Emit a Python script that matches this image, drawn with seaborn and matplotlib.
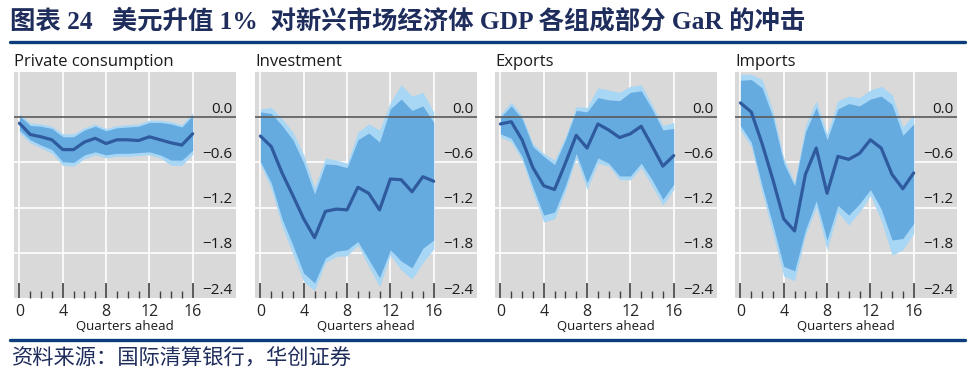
"""GaR response of EME GDP components to a 1% USD appreciation (four small panels)."""

import matplotlib
matplotlib.use("Agg")
import matplotlib.pyplot as plt
import matplotlib.transforms as mtransforms
from matplotlib.lines import Line2D
import pandas as pd
import seaborn as sns

# ---- data ----
quarters = [0, 1, 2, 3, 4, 5, 6, 7, 8, 9, 10, 11, 12, 13, 14, 15, 16]
panel_titles = ["Private consumption", "Investment", "Exports", "Imports"]
y_ticks = [0.0, -0.6, -1.2, -1.8, -2.4]
y_tick_labels = ["0.0", "\u22120.6", "\u22121.2", "\u22121.8", "\u22122.4"]
x_ticks = [0, 4, 8, 12, 16]

cons_median = [-0.08, -0.23, -0.26, -0.30, -0.43, -0.43, -0.33, -0.28, -0.35,
               -0.30, -0.30, -0.31, -0.26, -0.30, -0.34, -0.37, -0.22]
cons_inner_hi = [0.02, -0.11, -0.12, -0.15, -0.26, -0.26, -0.17, -0.12, -0.18,
                 -0.14, -0.13, -0.12, -0.07, -0.07, -0.09, -0.13, 0.02]
cons_inner_lo = [-0.17, -0.30, -0.37, -0.43, -0.59, -0.60, -0.50, -0.46, -0.50,
                 -0.48, -0.48, -0.47, -0.46, -0.50, -0.57, -0.57, -0.44]
cons_outer_hi = [0.05, -0.08, -0.09, -0.12, -0.22, -0.22, -0.14, -0.09, -0.15,
                 -0.11, -0.10, -0.09, -0.04, -0.04, -0.06, -0.10, 0.06]
cons_outer_lo = [-0.21, -0.34, -0.41, -0.48, -0.64, -0.65, -0.55, -0.50, -0.54,
                 -0.52, -0.52, -0.51, -0.50, -0.54, -0.64, -0.64, -0.49]

inv_median = [-0.25, -0.39, -0.74, -1.04, -1.35, -1.60, -1.25, -1.22, -1.23,
              -0.93, -1.01, -1.23, -0.82, -0.83, -0.99, -0.79, -0.85]
inv_inner_hi = [0.07, 0.05, -0.11, -0.30, -0.61, -1.02, -0.62, -0.63, -0.67,
                -0.30, -0.21, -0.33, 0.11, 0.24, 0.09, 0.15, -0.07]
inv_inner_lo = [-0.59, -0.87, -1.35, -1.70, -2.07, -2.20, -1.87, -1.78, -1.76,
                -1.65, -1.89, -2.13, -1.76, -1.91, -2.00, -1.74, -1.63]
inv_outer_hi = [0.11, 0.13, -0.02, -0.20, -0.50, -0.93, -0.54, -0.57, -0.61,
                -0.20, -0.09, -0.17, 0.20, 0.43, 0.28, 0.33, 0.07]
inv_outer_lo = [-0.63, -0.95, -1.45, -1.82, -2.18, -2.30, -1.93, -1.85, -1.84,
                -1.70, -1.98, -2.25, -1.83, -2.03, -2.15, -1.93, -1.75]

exp_median = [-0.09, -0.06, -0.30, -0.67, -0.91, -0.96, -0.61, -0.24, -0.41,
              -0.09, -0.17, -0.27, -0.22, -0.12, -0.38, -0.65, -0.51]
exp_inner_hi = [0.00, 0.15, -0.02, -0.39, -0.52, -0.63, -0.30, 0.09, 0.07,
                0.26, 0.23, 0.22, 0.33, 0.35, 0.11, -0.17, -0.15]
exp_inner_lo = [-0.22, -0.28, -0.52, -0.93, -1.30, -1.26, -0.91, -0.48, -0.87,
                -0.54, -0.61, -0.78, -0.78, -0.61, -0.83, -1.09, -0.89]
exp_outer_hi = [0.04, 0.20, 0.02, -0.35, -0.48, -0.57, -0.26, 0.14, 0.13,
                0.39, 0.36, 0.33, 0.41, 0.43, 0.17, -0.11, -0.07]
exp_outer_lo = [-0.26, -0.33, -0.57, -1.00, -1.39, -1.35, -0.98, -0.54, -0.96,
                -0.61, -0.65, -0.83, -0.83, -0.67, -0.91, -1.17, -0.96]

imp_median = [0.19, 0.07, -0.35, -0.83, -1.35, -1.51, -0.76, -0.41, -1.01,
              -0.52, -0.56, -0.48, -0.30, -0.41, -0.76, -0.95, -0.74]
imp_inner_hi = [0.49, 0.50, 0.39, 0.00, -0.61, -0.91, -0.20, 0.13, -0.30,
                0.11, 0.18, 0.15, 0.24, 0.28, 0.17, -0.24, -0.09]
imp_inner_lo = [-0.11, -0.33, -0.91, -1.43, -1.98, -2.04, -1.50, -1.11, -1.63,
                -1.17, -1.30, -1.15, -0.96, -1.22, -1.63, -1.61, -1.41]
imp_outer_hi = [0.57, 0.57, 0.50, 0.09, -0.54, -0.87, -0.11, 0.22, -0.22,
                0.22, 0.28, 0.26, 0.36, 0.41, 0.30, -0.13, 0.04]
imp_outer_lo = [-0.17, -0.39, -1.00, -1.54, -2.11, -2.17, -1.57, -1.20, -1.76,
                -1.26, -1.43, -1.26, -1.04, -1.37, -1.83, -1.76, -1.54]

panels = [
    (cons_median, cons_inner_hi, cons_inner_lo, cons_outer_hi, cons_outer_lo),
    (inv_median, inv_inner_hi, inv_inner_lo, inv_outer_hi, inv_outer_lo),
    (exp_median, exp_inner_hi, exp_inner_lo, exp_outer_hi, exp_outer_lo),
    (imp_median, imp_inner_hi, imp_inner_lo, imp_outer_hi, imp_outer_lo),
]

# ---- styling ----
sns.set_theme(style="dark")
plt.rcParams["font.family"] = ["Open Sans", "DejaVu Sans"]
plt.rcParams["axes.facecolor"] = "#d9d9d9"

BG_GREY = "#d9d9d9"
OUTER_BLUE = "#a8d6f5"
INNER_BLUE = "#66abe0"
LINE_BLUE = "#2f5b9e"
NAVY = "#0d3c7c"

W, H = 976, 381
fig = plt.figure(figsize=(W / 100, H / 100), dpi=100)
fig.patch.set_facecolor("white")

ax_lefts = [14, 255, 495, 735]
ax_w, ax_top, ax_bottom = 222, 72, 298

for left, title, (med, in_hi, in_lo, out_hi, out_lo) in zip(ax_lefts, panel_titles, panels):
    ax = fig.add_axes([left / W, 1 - ax_bottom / H, ax_w / W, (ax_bottom - ax_top) / H])
    ax.set_facecolor(BG_GREY)
    df = pd.DataFrame({"quarter": quarters, "median": med})

    ax.fill_between(quarters, out_lo, out_hi, color=OUTER_BLUE, lw=0, zorder=1)
    ax.fill_between(quarters, in_lo, in_hi, color=INNER_BLUE, lw=0, zorder=1.1)
    ax.axhline(0, color="#5a5a5a", lw=1.2, zorder=1.8)
    sns.lineplot(data=df, x="quarter", y="median", ax=ax, color=LINE_BLUE,
                 lw=2.3, zorder=3)

    # white grid behind the bands
    for xt in x_ticks:
        ax.axvline(xt, color="white", lw=1.2, zorder=0.5)
    for yt in y_ticks[1:-1]:
        ax.axhline(yt, color="white", lw=1.2, zorder=0.5)

    ax.set_xlim(-0.5, 20)
    ax.set_ylim(-2.4, 0.6)
    ax.grid(False)
    for sp in ax.spines.values():
        sp.set_visible(False)

    ax.set_yticks([])
    ax.set_xticks(x_ticks)
    ax.set_xticks(quarters, minor=True)
    ax.set_xticklabels([str(t) for t in x_ticks])
    ax.tick_params(axis="x", which="major", direction="in", length=11, width=1.2,
                   color="#404040", labelsize=11.5, pad=4, bottom=True)
    ax.tick_params(axis="x", which="minor", direction="in", length=5, width=1.0,
                   color="#404040", bottom=True)
    ax.set_xlabel("Quarters ahead", fontsize=9.5, labelpad=0, color="#1a1a1a")
    ax.set_ylabel("")

    trans = mtransforms.blended_transform_factory(ax.transAxes, ax.transData)
    for yt, lab in zip(y_ticks, y_tick_labels):
        ax.text(0.985, yt + 0.005, lab, transform=trans, ha="right", va="bottom",
                fontsize=11, color="#1a1a1a", zorder=4)

    ax.set_title(title, loc="left", fontsize=12, pad=4, color="#1a1a1a")

# ---- header / footer ----
fig.add_artist(Line2D([10 / W, 965 / W], [1 - 42 / H, 1 - 42 / H], color=NAVY, lw=2.4))
fig.add_artist(Line2D([10 / W, 965 / W], [1 - 340 / H, 1 - 340 / H], color=NAVY, lw=2.4))

fig.text(10 / W, 1 - 21 / H,
         "图表 24   美元升值 1%  对新兴市场经济体 GDP 各组成部分 GaR 的冲击",
         family=["Liberation Serif", "Noto Sans CJK SC"], fontweight="bold",
         fontsize=18.3, color="#1f2d5c", ha="left", va="center")
fig.text(12 / W, 1 - 359 / H, "资料来源：国际清算银行，华创证券",
         family=["Noto Sans CJK SC", "DejaVu Sans"], fontsize=15.3,
         color="#1f2d5c", ha="left", va="center", style="italic")

fig.savefig("out.png", dpi=100)
